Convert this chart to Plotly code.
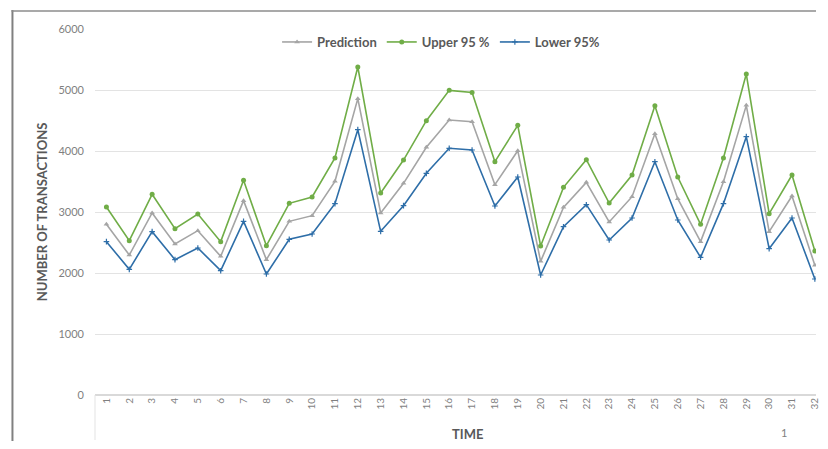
import plotly.graph_objects as go

time = list(range(1, 33))
tick_labels = [str(t) for t in time]

prediction = [2798, 2295, 2984, 2475, 2694, 2273, 3186, 2219, 2847, 2940,
              3503, 4858, 2984, 3470, 4060, 4508, 4481, 3448, 4005, 2191,
              3076, 3486, 2836, 3251, 4284, 3218, 2514, 3497, 4748, 2678,
              3262, 2126]
upper95 = [3082, 2530, 3290, 2727, 2967, 2514, 3519, 2448, 3142, 3246,
           3885, 5377, 3311, 3852, 4497, 4994, 4961, 3825, 4421, 2443,
           3404, 3858, 3147, 3606, 4743, 3574, 2798, 3885, 5262, 2973,
           3606, 2361]
lower95 = [2514, 2060, 2678, 2219, 2410, 2038, 2847, 1984, 2552, 2639,
           3137, 4350, 2683, 3104, 3634, 4044, 4016, 3098, 3574, 1967,
           2759, 3120, 2541, 2902, 3825, 2869, 2257, 3137, 4235, 2399,
           2902, 1902]

# page body has an 8px default margin; figure is placed at (8, 8)
OFF = 8
W, H = 828 - 2 * OFF, 449 - 2 * OFF
L, R, T, B = 95 - OFF, 0, 29 - OFF, H - (395 - OFF)
pw, ph = W - L - R, H - T - B

def px(x):
    return (x - OFF - L) / pw

def py(y):
    return (H - B - (y - OFF)) / ph

fig = go.Figure()
fig.add_trace(go.Scatter(x=time, y=prediction, name="Prediction", mode="lines+markers",
                         line=dict(color="#A5A5A5", width=1.6),
                         marker=dict(symbol="triangle-up", size=5, color="#A5A5A5")))
fig.add_trace(go.Scatter(x=time, y=upper95, name="Upper 95 %", mode="lines+markers",
                         line=dict(color="#70AD47", width=1.6),
                         marker=dict(symbol="circle", size=5, color="#70AD47")))
fig.add_trace(go.Scatter(x=time, y=lower95, name="Lower 95%", mode="lines+markers",
                         line=dict(color="#2E6EA8", width=1.6),
                         marker=dict(symbol="cross-thin-open", size=4,
                                     line=dict(color="#2E6EA8", width=1.2))))

font_family = "Lato, 'Open Sans', sans-serif"

fig.update_layout(
    width=W, height=H,
    margin=dict(l=L, r=R, t=T, b=B),
    paper_bgcolor="white", plot_bgcolor="white",
    font=dict(family=font_family, color="#595959"),
    showlegend=True,
    legend=dict(orientation="h", x=px(443), y=py(42), xanchor="center", yanchor="middle",
                font=dict(size=13, color="#595959", family=font_family, weight="bold"),
                itemwidth=30, tracegroupgap=0, bgcolor="rgba(0,0,0,0)"),
    xaxis=dict(range=[0.5, 32.05], tickmode="array", tickvals=time, ticktext=tick_labels,
               tickangle=-90, tickfont=dict(size=10, color="#7F7F7F"),
               ticklabeloverflow="allow",
               showgrid=False, showline=False, zeroline=False, ticks="", ticklen=0),
    yaxis=dict(range=[0, 6000], tickvals=[0, 1000, 2000, 3000, 4000, 5000, 6000],
               tickfont=dict(size=11, color="#7F7F7F"), showgrid=True,
               gridcolor="#E3E3E3", gridwidth=1, zeroline=True, zerolinecolor="#D9D9D9",
               zerolinewidth=1.5, showline=False, ticks="", ticklabelstandoff=10),
    annotations=[
        dict(text="<b>NUMBER OF TRANSACTIONS</b>", xref="paper", yref="paper",
             x=px(42), y=py(212), textangle=-90, showarrow=False,
             font=dict(size=13, color="#595959"), xanchor="center", yanchor="middle"),
        dict(text="<b>TIME</b>", xref="paper", yref="paper", x=px(470), y=py(434),
             showarrow=False, font=dict(size=13, color="#595959"),
             xanchor="center", yanchor="middle"),
        dict(text="1", xref="paper", yref="paper", x=px(788), y=py(432),
             showarrow=False, font=dict(size=11, color="#7F7F7F"),
             xanchor="center", yanchor="middle"),
    ],
    shapes=[
        dict(type="line", xref="paper", yref="paper", x0=px(12), x1=px(12),
             y0=py(10), y1=py(441), line=dict(color="#808080", width=2)),
        dict(type="line", xref="paper", yref="paper", x0=px(11), x1=px(820),
             y0=py(11), y1=py(11), line=dict(color="#8C8C8C", width=1.5)),
        dict(type="line", xref="paper", yref="paper", x0=0, x1=0,
             y0=py(395), y1=py(440), line=dict(color="#E3E3E3", width=1)),
    ],
)

fig.write_html("out.html")
